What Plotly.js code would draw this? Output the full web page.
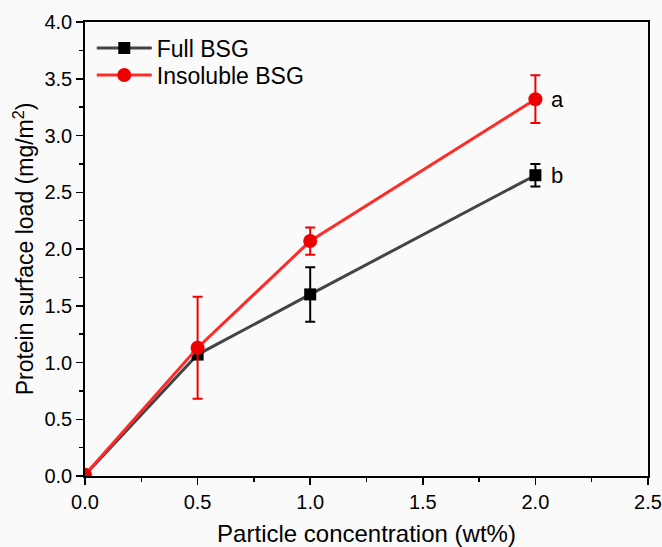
<!DOCTYPE html>
<html>
<head>
<meta charset="utf-8">
<script src="https://cdn.plot.ly/plotly-3.0.1.min.js"></script>
<style>html,body{margin:0;padding:0;background:#fff;}</style>
</head>
<body>
<div id="chart" style="width:662px;height:547px;"></div>
<script>
const conc = [0, 0.5, 1.0, 2.0];
const fullBSG = [0.01, 1.07, 1.60, 2.65];
const fullBSGErr = [0, 0.03, 0.24, 0.10];
const insolBSG = [0.01, 1.13, 2.07, 3.32];
const insolBSGErr = [0, 0.45, 0.12, 0.21];
const seriesNames = ["Full BSG", "Insoluble BSG"];
const letterLabels = ["b", "a"];
const xTicks = [0, 0.5, 1.0, 1.5, 2.0, 2.5];
const yTicks = [0, 0.5, 1.0, 1.5, 2.0, 2.5, 3.0, 3.5, 4.0];

const font = "Arial, 'Liberation Sans', sans-serif";

const traces = [
  {
    x: conc, y: fullBSG, name: seriesNames[0], type: "scatter", mode: "lines+markers",
    legend: "legend",
    line: {color: "#444444", width: 3},
    marker: {symbol: "square", size: 12, color: "#000000"},
    error_y: {type: "data", array: fullBSGErr, visible: true, color: "#000000", thickness: 2, width: 5}
  },
  {
    x: conc, y: insolBSG, name: seriesNames[1], type: "scatter", mode: "lines+markers",
    legend: "legend2",
    line: {color: "#ff2a2a", width: 3},
    marker: {symbol: "circle", size: 14, color: "#ee0000"},
    error_y: {type: "data", array: insolBSGErr, visible: true, color: "#ee0000", thickness: 2, width: 5}
  }
];

const legendCommon = {xanchor: "left", yanchor: "top", bgcolor: "rgba(0,0,0,0)",
  font: {family: font, size: 23, color: "#000"}, itemwidth: 55};

const layout = {
  width: 662, height: 547,
  margin: {l: 85, r: 14, t: 22, b: 71},
  paper_bgcolor: "#fafafa",
  plot_bgcolor: "#fafafa",
  font: {family: font, color: "#000", size: 20},
  showlegend: true,
  legend: Object.assign({x: 0.012, y: 0.99}, legendCommon),
  legend2: Object.assign({x: 0.012, y: 0.9306}, legendCommon),
  xaxis: {
    range: [0, 2.5], tickvals: xTicks, ticktext: xTicks.map(v => v.toFixed(1)),
    showgrid: false, zeroline: false, showline: true, linecolor: "#000", linewidth: 1.8,
    mirror: true, ticks: "outside", ticklen: 7, tickwidth: 1.5, tickcolor: "#000",
    minor: {dtick: 0.25, ticks: "outside", ticklen: 4, tickwidth: 1.5, tickcolor: "#000"},
    tickfont: {size: 20},
    title: {text: "Particle concentration (wt%)", font: {size: 24}, standoff: 14}
  },
  yaxis: {
    range: [0, 4.0], tickvals: yTicks, ticktext: yTicks.map(v => v.toFixed(1)),
    showgrid: false, zeroline: false, showline: true, linecolor: "#000", linewidth: 1.8,
    mirror: true, ticks: "outside", ticklen: 7, tickwidth: 1.5, tickcolor: "#000",
    minor: {dtick: 0.25, ticks: "outside", ticklen: 4, tickwidth: 1.5, tickcolor: "#000"},
    tickfont: {size: 20},
    title: {text: "Protein surface load (mg/m<sup>2</sup>)", font: {size: 23}, standoff: 4}
  },
  annotations: [
    {x: conc[3], y: fullBSG[3], xref: "x", yref: "y", text: letterLabels[0], showarrow: false,
     xanchor: "left", xshift: 14, font: {size: 22, family: font}},
    {x: conc[3], y: insolBSG[3], xref: "x", yref: "y", text: letterLabels[1], showarrow: false,
     xanchor: "left", xshift: 14, font: {size: 22, family: font}}
  ]
};

Plotly.newPlot("chart", traces, layout, {displayModeBar: false, staticPlot: true});
</script>
</body>
</html>
